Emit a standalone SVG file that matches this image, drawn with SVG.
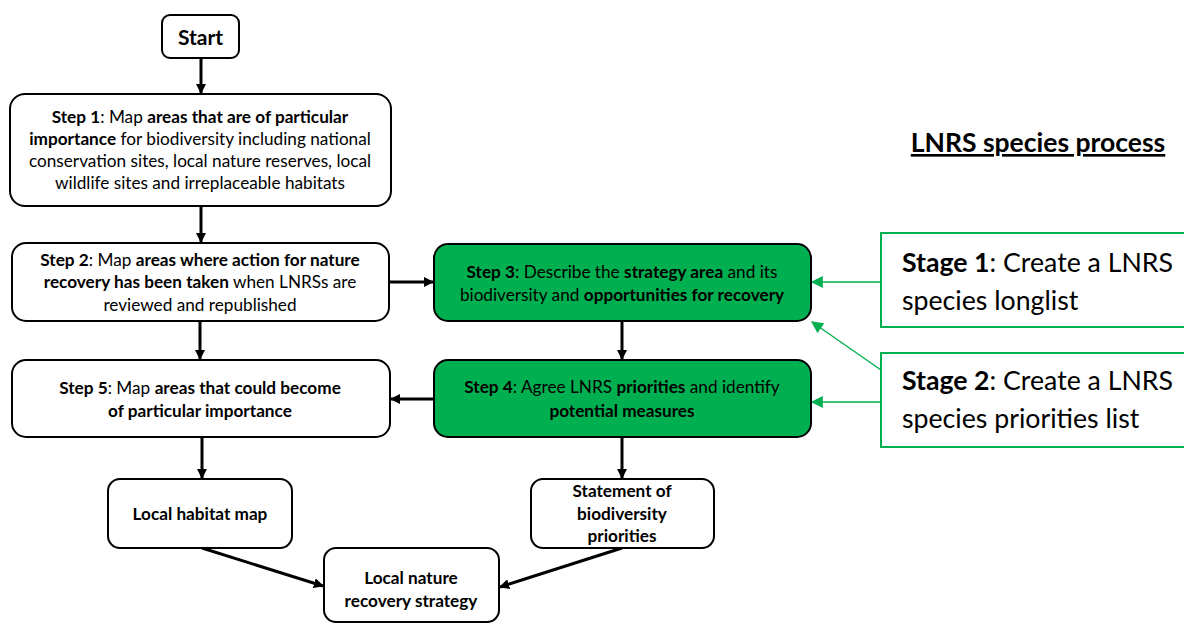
<svg xmlns="http://www.w3.org/2000/svg" width="1184" height="623" viewBox="0 0 1184 623">
<defs>
<style>
text{font-family:Lato,"Open Sans","Liberation Sans",sans-serif;fill:#000}
.t{font-size:17.2px;text-anchor:middle}
.b{font-weight:bold}
.box{fill:#fff;stroke:#000;stroke-width:2}
.gbox{fill:#00B050;stroke:#000;stroke-width:2}
.sbox{fill:#fff;stroke:#00B050;stroke-width:2}
.st{font-size:26.7px}
.c{fill:none;stroke:#000;stroke-width:3}
.g{fill:none;stroke:#00B050;stroke-width:1.5}
</style>
<marker id="ah" viewBox="0 0 10 10" refX="9" refY="5" markerWidth="3.4" markerHeight="3.4" orient="auto" markerUnits="strokeWidth"><path d="M0,0 L10,5 L0,10 z" fill="#000"/></marker>
<marker id="gh" viewBox="0 0 10 10" refX="9" refY="5" markerWidth="9" markerHeight="8" orient="auto" markerUnits="strokeWidth"><path d="M0,0 L10,5 L0,10 z" fill="#00B050"/></marker>
</defs>
<g id="connectors">
<line class="c" x1="201" y1="58" x2="201" y2="93" marker-end="url(#ah)"/>
<line class="c" x1="201" y1="207" x2="201" y2="242" marker-end="url(#ah)"/>
<line class="c" x1="200" y1="321" x2="200" y2="359" marker-end="url(#ah)"/>
<line class="c" x1="389" y1="282" x2="433" y2="282" marker-end="url(#ah)"/>
<line class="c" x1="622" y1="321" x2="622" y2="359" marker-end="url(#ah)"/>
<line class="c" x1="434" y1="399" x2="391" y2="399" marker-end="url(#ah)"/>
<line class="c" x1="202" y1="437" x2="202" y2="478" marker-end="url(#ah)"/>
<line class="c" x1="622" y1="437" x2="622" y2="478" marker-end="url(#ah)"/>
<line class="c" x1="202" y1="548" x2="323" y2="586" marker-end="url(#ah)"/>
<line class="c" x1="622" y1="548" x2="500" y2="587" marker-end="url(#ah)"/>
<line class="g" x1="881" y1="282" x2="812" y2="282" marker-end="url(#gh)"/>
<line class="g" x1="881" y1="370" x2="812" y2="322" marker-end="url(#gh)"/>
<line class="g" x1="881" y1="402" x2="812" y2="402" marker-end="url(#gh)"/>
</g>
<g id="start">
<rect class="box" x="162" y="15" width="77" height="43" rx="8"/>
<text class="b" x="200.5" y="45" font-size="21" text-anchor="middle">Start</text>
</g>
<g id="step1">
<rect class="box" x="10" y="94" width="381" height="112" rx="15"/>
<text class="t" x="200" y="123"><tspan class="b">Step 1</tspan>: Map <tspan class="b">areas that are of particular</tspan></text>
<text class="t" x="200" y="145"><tspan class="b">importance</tspan> for biodiversity including national</text>
<text class="t" x="200" y="167">conservation sites, local nature reserves, local</text>
<text class="t" x="200" y="189">wildlife sites and irreplaceable habitats</text>
</g>
<g id="step2">
<rect class="box" x="12" y="243" width="377" height="78" rx="14"/>
<text class="t" x="200" y="266"><tspan class="b">Step 2</tspan>: Map <tspan class="b">areas where action for nature</tspan></text>
<text class="t" x="200" y="288"><tspan class="b">recovery has been taken</tspan> when LNRSs are</text>
<text class="t" x="200" y="311">reviewed and republished</text>
</g>
<g id="step3">
<rect class="gbox" x="434" y="244" width="377" height="77" rx="14"/>
<text class="t" x="622" y="278"><tspan class="b">Step 3</tspan>: Describe the <tspan class="b">strategy area</tspan> and its</text>
<text class="t" x="622" y="301">biodiversity and <tspan class="b">opportunities for recovery</tspan></text>
</g>
<g id="step4">
<rect class="gbox" x="434" y="360" width="377" height="77" rx="14"/>
<text class="t" x="622" y="393"><tspan class="b">Step 4</tspan>: Agree LNRS <tspan class="b">priorities</tspan> and identify</text>
<text class="t" x="622" y="417" font-weight="bold">potential measures</text>
</g>
<g id="step5">
<rect class="box" x="12" y="360" width="378" height="77" rx="14"/>
<text class="t" x="200" y="394"><tspan class="b">Step 5</tspan>: Map <tspan class="b">areas that could become</tspan></text>
<text class="t b" x="200" y="417">of particular importance</text>
</g>
<g id="habitat">
<rect class="box" x="108" y="479" width="184" height="69" rx="12"/>
<text class="t b" x="200" y="520">Local habitat map</text>
</g>
<g id="statement">
<rect class="box" x="531" y="479" width="183" height="69" rx="12"/>
<text class="t b" x="622" y="497">Statement of</text>
<text class="t b" x="622" y="520">biodiversity</text>
<text class="t b" x="622" y="542">priorities</text>
</g>
<g id="lnrs">
<rect class="box" x="324" y="548" width="175" height="74" rx="12"/>
<text class="t b" x="411" y="584">Local nature</text>
<text class="t b" x="411" y="607">recovery strategy</text>
</g>
<g id="title">
<text x="1038" y="152" font-size="26.5" font-weight="bold" text-anchor="middle" text-decoration="underline">LNRS species process</text>
</g>
<g id="stage1">
<rect class="sbox" x="881" y="233" width="310" height="94"/>
<text class="st" x="902" y="272"><tspan class="b">Stage 1</tspan>: Create a LNRS</text>
<text class="st" x="902" y="310">species longlist</text>
</g>
<g id="stage2">
<rect class="sbox" x="881" y="353" width="310" height="94"/>
<text class="st" x="902" y="390"><tspan class="b">Stage 2</tspan>: Create a LNRS</text>
<text class="st" x="902" y="428">species priorities list</text>
</g>
</svg>
